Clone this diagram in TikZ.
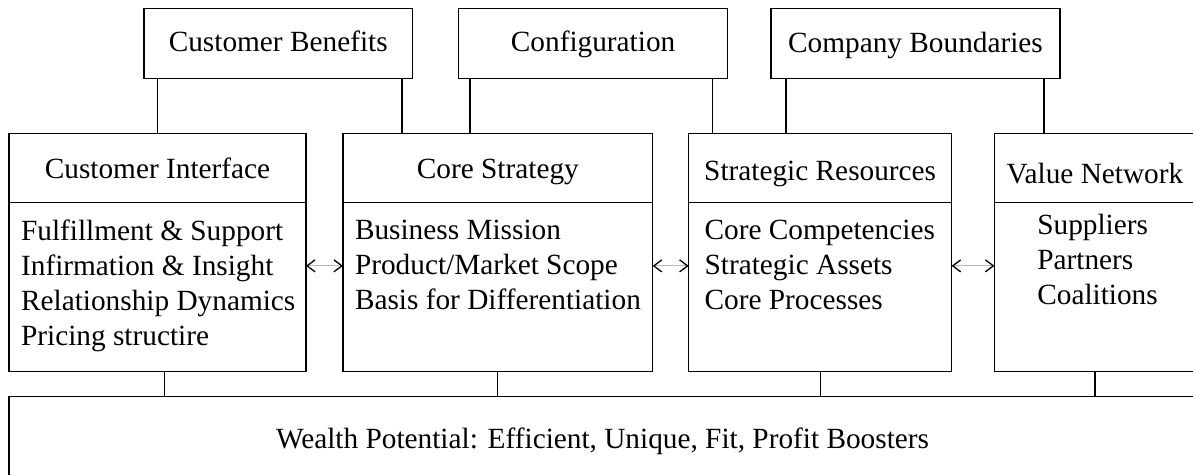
\documentclass[tikz,border=0pt]{standalone}
\usepackage{fontspec}
\setmainfont{Liberation Serif}
\usetikzlibrary{arrows.meta}
\begin{document}
\begin{tikzpicture}[x=1pt,y=-1pt,line width=1.2pt,
  font=\fontsize{29.3}{35}\selectfont,
  box/.style={draw,inner sep=0pt,outer sep=0pt,minimum height=#1},
  topbox/.style={box=70.4pt,text height=20pt,text depth=4pt},
  headbox/.style={box=69.7pt,text height=20pt,text depth=0pt},
  bodybox/.style={box=169pt,anchor=north},
  list/.style={anchor=north west,align=left,inner sep=0pt},
  barb/.tip={Straight Barb[color=black,length=8pt,width=12pt,line width=1.3pt]},
  twoway/.style={barb-barb,gray!55,line width=1pt}]
\useasboundingbox (0,0) rectangle (1193,474);
\clip (0,0) rectangle (1193,474);
\node[topbox,minimum width=268.5pt] (benefits) at (278.25,43.5) {Customer Benefits};
\node[topbox,minimum width=269.2pt] (config) at (593.1,43.5) {Configuration};
\node[topbox,minimum width=289pt,text height=21.5pt] (bounds) at (915.5,43.5) {Company Boundaries};
\node[headbox,minimum width=297pt] (ciHead) at (157.5,168) {Customer Interface};
\node[headbox,minimum width=309.7pt] (csHead) at (497.85,168) {Core Strategy};
\node[headbox,minimum width=262.9pt,text height=24pt] (srHead) at (820.15,168) {Strategic Resources};
\node[headbox,minimum width=201pt,text height=31pt] (vnHead) at (1095,168) {Value Network};
\node[bodybox,minimum width=297pt] (ciBody) at (ciHead.south) {};
\node[bodybox,minimum width=309.7pt] (csBody) at (csHead.south) {};
\node[bodybox,minimum width=262.9pt] (srBody) at (srHead.south) {};
\node[bodybox,minimum width=201pt] (vnBody) at (vnHead.south) {};
\node[list] (ciList) at (20.5,219.5) {Fulfillment \& Support\\Infirmation \& Insight\\Relationship Dynamics\\Pricing structire};
\node[list] (csList) at (354.4,219.5) {Business Mission\\Product/Market Scope\\Basis for Differentiation};
\node[list] (srList) at (704,219.5) {Core Competencies\\Strategic Assets\\Core Processes};
\node[list] (vnList) at (1036.7,214) {Suppliers\\Partners\\Coalitions};
\node[draw,outer sep=0pt,minimum width=1187pt,minimum height=89pt] (wealth) at (602.5,441.2) {Wealth Potential: Efficient, Unique, Fit, Profit Boosters};
\draw (ciHead.north |- benefits.south) -- (ciHead.north);
\draw ([xshift=-10.5pt]benefits.south east) -- ([xshift=-10.5pt]benefits.south east |- csHead.north);
\draw ([xshift=11.5pt]config.south west) -- ([xshift=11.5pt]config.south west |- csHead.north);
\draw ([xshift=-15pt]config.south east) -- ([xshift=-15pt]config.south east |- srHead.north);
\draw ([xshift=15pt]bounds.south west) -- ([xshift=15pt]bounds.south west |- srHead.north);
\draw ([xshift=-16pt]bounds.south east) -- ([xshift=-16pt]bounds.south east |- vnHead.north);
\draw ([xshift=7pt]ciBody.south) -- ([xshift=7pt]ciBody.south |- wealth.north);
\foreach \n in {csBody,srBody,vnBody}
  \draw (\n.south) -- (\n.south |- wealth.north);
\foreach \a/\b in {ciBody/csBody,csBody/srBody,srBody/vnBody}
  \draw[twoway] ([yshift=21.5pt]\a.east) -- ([yshift=21.5pt]\b.west);
\end{tikzpicture}
\end{document}
